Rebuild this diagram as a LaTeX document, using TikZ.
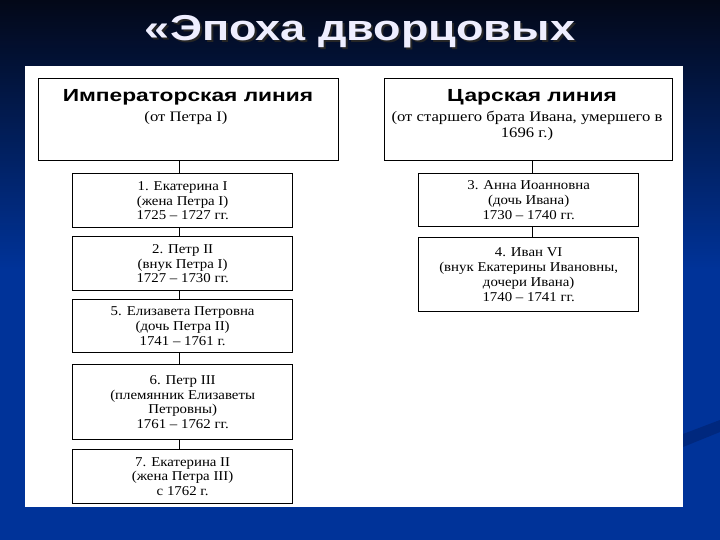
\documentclass[tikz,border=0pt]{standalone}
\usepackage{fontspec}
\setmainfont{Liberation Serif}[FakeStretch=1.1]
\newfontfamily\hsub[FakeStretch=1.15]{Liberation Serif}
\newfontfamily\hsans[FakeStretch=1.3,BoldFont={Liberation Sans Bold}]{Liberation Sans}
\newfontfamily\tsans[FakeStretch=1.25,BoldFont={Liberation Sans Bold}]{Liberation Sans}
\definecolor{bgblue}{HTML}{003399}
\definecolor{bgtop}{HTML}{030818}
\definecolor{stripe}{HTML}{00287E}
\definecolor{titlecol}{HTML}{EEEEFF}
\newcommand{\shadowtext}[1]{\makebox[0pt][l]{\hspace{2pt}\raisebox{-2pt}{\color{black!85}#1}}#1}
\begin{document}
\begin{tikzpicture}[x=1pt,y=-1pt,
  hbox/.style={draw=black, line width=0.9pt, fill=white, anchor=north west, inner sep=0pt},
  cbox/.style={draw=black, line width=1.3pt, fill=white, anchor=north west, inner sep=0pt, align=center,
    font=\fontsize{13.5}{14.7}\selectfont},
  htitle/.style={font=\hsans\bfseries\fontsize{17.5}{20}\selectfont, inner sep=0pt},
  hsubt/.style={font=\hsub\fontsize{14.5}{16}\selectfont, align=center, inner sep=0pt},
  conn/.style={draw=black, line width=0.9pt}]
\useasboundingbox (0,0) rectangle (720,540);
% background
\fill[bgblue] (0,0) rectangle (720,540);
\shade[top color=bgtop, bottom color=bgblue] (0,0) rectangle (720,270);
\fill[stripe] (683,434) -- (720,420) -- (720,432) -- (683,447) -- cycle;
% title
\node[font=\tsans\bfseries\fontsize{36}{40}\selectfont, text=titlecol, anchor=base] (title) at (360,41) {\shadowtext{«Эпоха дворцовых}};
% panel
\fill[white] (25,66) rectangle (683,507);
% headers
\node[hbox, minimum width=300pt, minimum height=82pt] (hL) at (38,78) {};
\node[htitle] (hLt) at (188,97) {Императорская линия};
\node[hsubt] (hLs) at (186,118) {(от Петра I)};
\node[hbox, minimum width=288pt, minimum height=82pt] (hR) at (384,78) {};
\node[htitle] (hRt) at (532,97) {Царская линия};
\node[hsubt] (hRs) at (527,126) {(от старшего брата Ивана, умершего в\\1696 г.)};
% left line
\node[cbox, minimum width=220pt, minimum height=54pt] (b1) at (72,173) {1. Екатерина I\\(жена Петра I)\\1725 – 1727 гг.};
\node[cbox, minimum width=220pt, minimum height=54pt] (b2) at (72,236) {2. Петр II\\(внук Петра I)\\1727 – 1730 гг.};
\node[cbox, minimum width=220pt, minimum height=53pt] (b5) at (72,299) {5. Елизавета Петровна\\(дочь Петра II)\\1741 – 1761 г.};
\node[cbox, minimum width=220pt, minimum height=75pt] (b6) at (72,364) {6. Петр III\\(племянник Елизаветы\\Петровны)\\1761 – 1762 гг.};
\node[cbox, minimum width=220pt, minimum height=54pt] (b7) at (72,449) {7. Екатерина II\\(жена Петра III)\\с 1762 г.};
% right line
\node[cbox, minimum width=220pt, minimum height=53pt] (b3) at (418,173) {3. Анна Иоанновна\\(дочь Ивана)\\1730 – 1740 гг.};
\node[cbox, minimum width=220pt, minimum height=74pt] (b4) at (418,237) {4. Иван VI\\(внук Екатерины Ивановны,\\дочери Ивана)\\1740 – 1741 гг.};
% connectors
\coordinate (cl) at (179,0);
\coordinate (cr) at (532,0);
\draw[conn] (hL.south -| cl) -- (b1.north -| cl);
\draw[conn] (b1.south -| cl) -- (b2.north -| cl);
\draw[conn] (b2.south -| cl) -- (b5.north -| cl);
\draw[conn] (b5.south -| cl) -- (b6.north -| cl);
\draw[conn] (b6.south -| cl) -- (b7.north -| cl);
\draw[conn] (hR.south -| cr) -- (b3.north -| cr);
\draw[conn] (b3.south -| cr) -- (b4.north -| cr);
\end{tikzpicture}
\end{document}
